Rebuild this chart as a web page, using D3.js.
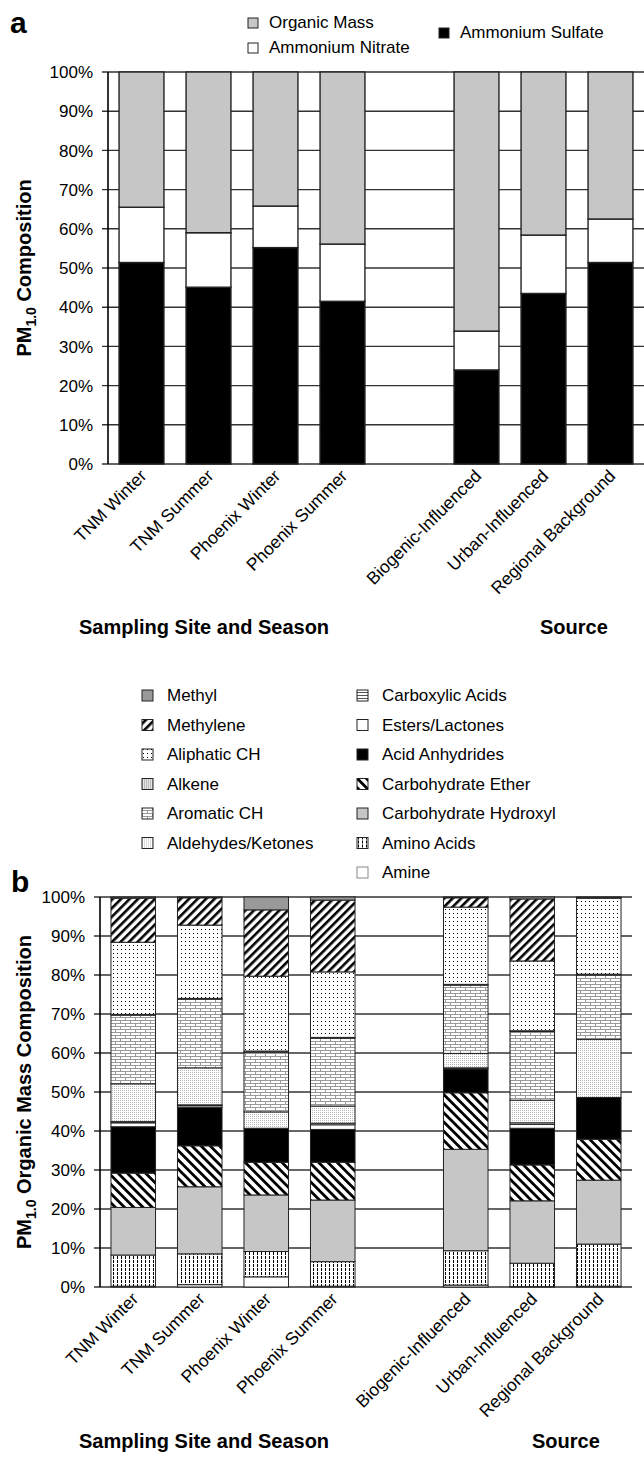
<!DOCTYPE html>
<html>
<head>
<meta charset="utf-8">
<script src="https://cdn.jsdelivr.net/npm/d3@7"></script>
<style>
  body { margin: 0; background: #fff; }
  svg { display: block; font-family: "Liberation Sans", Arial, sans-serif; }
</style>
</head>
<body>
<div id="chart"></div>
<script>
// categories
const siteLabels = ["TNM Winter", "TNM Summer", "Phoenix Winter", "Phoenix Summer"];
const sourceLabels = ["Biogenic-Influenced", "Urban-Influenced", "Regional Background"];
const categories = siteLabels.concat(sourceLabels);
const yTicks = [0, 10, 20, 30, 40, 50, 60, 70, 80, 90, 100];

// panel a (% of PM1.0)
const sulfate = [51.4, 45.1, 55.2, 41.5, 24.0, 43.5, 51.4];
const nitrate = [14.1, 13.9, 10.6, 14.6, 9.9, 14.9, 11.1];
const organic = [34.5, 41.0, 34.2, 43.9, 66.1, 41.6, 37.5];

// panel b (% of organic mass), bottom to top
const amine      = [0.2, 0.6, 2.6, 0.2, 0.5, 0.1, 0.2];
const aminoAcids = [8.0, 7.9, 6.5, 6.3, 8.8, 6.0, 10.8];
const hydroxyl   = [12.2, 17.2, 14.5, 15.8, 26.0, 16.0, 16.4];
const ether      = [8.8, 10.5, 8.4, 9.7, 14.5, 9.2, 10.5];
const anhydrides = [11.9, 9.9, 8.7, 8.4, 6.1, 9.4, 10.7];
const esters     = [1.0, 0.4, 0.0, 1.2, 0.0, 1.0, 0.0];
const carboxylic = [0.3, 0.2, 0.0, 0.4, 0.3, 0.4, 0.0];
const aldehydes  = [9.7, 9.5, 4.2, 4.4, 3.7, 5.8, 14.9];
const aromatic   = [17.6, 17.6, 15.3, 17.4, 17.5, 17.6, 16.5];
const alkene     = [0.2, 0.2, 0.3, 0.2, 0.2, 0.2, 0.2];
const aliphatic  = [18.5, 18.8, 19.2, 16.8, 19.8, 17.9, 19.5];
const methylene  = [11.3, 7.0, 17.0, 18.4, 2.4, 15.9, 0.2];
const methyl     = [0.3, 0.2, 3.3, 0.8, 0.2, 0.5, 0.1];

const seriesA = [
  {key: "Ammonium Sulfate", values: sulfate},
  {key: "Ammonium Nitrate", values: nitrate},
  {key: "Organic Mass", values: organic}
];
const seriesB = [
  {key: "Amine", values: amine},
  {key: "Amino Acids", values: aminoAcids},
  {key: "Carbohydrate Hydroxyl", values: hydroxyl},
  {key: "Carbohydrate Ether", values: ether},
  {key: "Acid Anhydrides", values: anhydrides},
  {key: "Esters/Lactones", values: esters},
  {key: "Carboxylic Acids", values: carboxylic},
  {key: "Aldehydes/Ketones", values: aldehydes},
  {key: "Aromatic CH", values: aromatic},
  {key: "Alkene", values: alkene},
  {key: "Aliphatic CH", values: aliphatic},
  {key: "Methylene", values: methylene},
  {key: "Methyl", values: methyl}
];
const legendColsB = [
  ["Methyl", "Methylene", "Aliphatic CH", "Alkene", "Aromatic CH", "Aldehydes/Ketones"],
  ["Carboxylic Acids", "Esters/Lactones", "Acid Anhydrides", "Carbohydrate Ether", "Carbohydrate Hydroxyl", "Amino Acids", "Amine"]
];

const W = 644, H = 1457;
const svg = d3.select("#chart").append("svg").attr("width", W).attr("height", H);
const defs = svg.append("defs");

function pat(id, w, h, angle) {
  const p = defs.append("pattern").attr("id", id)
    .attr("patternUnits", "userSpaceOnUse").attr("width", w).attr("height", h);
  if (angle) p.attr("patternTransform", "rotate(" + angle + ")");
  p.append("rect").attr("width", w).attr("height", h).attr("fill", "#fff");
  return p;
}
// hatches
pat("pMethylene", 6, 6, 45).append("rect").attr("width", 2.6).attr("height", 6).attr("fill", "#000");
pat("pEther", 6.5, 6.5, -45).append("rect").attr("width", 2.8).attr("height", 6.5).attr("fill", "#000");
// dots
pat("pDots", 4, 4).append("rect").attr("x", 1).attr("y", 1).attr("width", 1).attr("height", 1).attr("fill", "#000");
// brick
let br = pat("pBrick", 10, 6);
br.append("rect").attr("width", 10).attr("height", 1).attr("fill", "#999");
br.append("rect").attr("y", 3).attr("width", 10).attr("height", 1).attr("fill", "#999");
br.append("rect").attr("x", 0).attr("width", 1).attr("height", 3).attr("fill", "#999");
br.append("rect").attr("x", 5).attr("y", 3).attr("width", 1).attr("height", 3).attr("fill", "#999");
// stipples
let st = pat("pStipple", 2, 2);
st.append("rect").attr("width", 1).attr("height", 1).attr("fill", "#bbb");
let st2 = pat("pStipple2", 2, 2);
st2.append("rect").attr("width", 1).attr("height", 1).attr("fill", "#777");
st2.append("rect").attr("x", 1).attr("y", 1).attr("width", 1).attr("height", 1).attr("fill", "#ccc");
// horizontal lines
pat("pHLines", 3, 3).append("rect").attr("width", 3).attr("height", 1).attr("fill", "#555");
// vertical dashes
pat("pVDash", 4, 4).append("rect").attr("x", 1).attr("width", 1).attr("height", 3).attr("fill", "#000");

const fillA = {"Organic Mass": "#c6c6c6", "Ammonium Nitrate": "#fff", "Ammonium Sulfate": "#000"};
const fillB = {
  "Methyl": "#999",
  "Methylene": "url(#pMethylene)",
  "Aliphatic CH": "url(#pDots)",
  "Alkene": "url(#pStipple2)",
  "Aromatic CH": "url(#pBrick)",
  "Aldehydes/Ketones": "url(#pStipple)",
  "Carboxylic Acids": "url(#pHLines)",
  "Esters/Lactones": "#fff",
  "Acid Anhydrides": "#000",
  "Carbohydrate Ether": "url(#pEther)",
  "Carbohydrate Hydroxyl": "#c6c6c6",
  "Amino Acids": "url(#pVDash)",
  "Amine": "#fff"
};

function panel(opt) {
  const g = svg.append("g");
  const slots = siteLabels.concat(["_gap"], sourceLabels);
  const x = d3.scaleBand().domain(slots).range([opt.x0, W - opt.rightInset])
    .paddingInner(0.33).paddingOuter(0.165);
  const y = d3.scaleLinear().domain([0, 100]).range([opt.bottom, opt.top]);

  // gridlines + ticks
  g.append("g").selectAll("line").data(yTicks).join("line")
    .attr("x1", opt.x0 - 6).attr("x2", W - opt.rightInset)
    .attr("y1", d => y(d)).attr("y2", d => y(d))
    .attr("stroke", "#333").attr("stroke-width", 1.4);
  g.append("g").selectAll("text").data(yTicks).join("text")
    .attr("x", opt.x0 - 15).attr("y", d => y(d)).attr("dy", "0.36em")
    .attr("text-anchor", "end").attr("font-size", 17).text(d => d + "%");

  // stacked bars
  const rows = categories.map((c, i) => {
    const r = {cat: c};
    opt.series.forEach(s => r[s.key] = s.values[i]);
    return r;
  });
  const stack = d3.stack().keys(opt.series.map(s => s.key))(rows);
  g.append("g").selectAll("g").data(stack).join("g")
    .attr("fill", d => opt.fill[d.key])
    .selectAll("rect").data(d => d).join("rect")
    .attr("x", d => x(d.data.cat))
    .attr("width", x.bandwidth())
    .attr("y", d => y(d[1]))
    .attr("height", d => y(d[0]) - y(d[1]))
    .attr("stroke", "#222").attr("stroke-width", opt.stroke);

  // y axis line
  g.append("line").attr("x1", opt.x0).attr("x2", opt.x0)
    .attr("y1", y(100)).attr("y2", y(0)).attr("stroke", "#000").attr("stroke-width", 1.6);

  // x labels
  g.append("g").selectAll("text").data(categories).join("text")
    .attr("transform", d => `translate(${x(d) + x.bandwidth() / 2 + 6},${opt.bottom + 13}) rotate(-45)`)
    .attr("text-anchor", "end").attr("font-size", 17.5).text(d => d);

  // axis titles
  g.append("text").attr("x", 79).attr("y", opt.titleY)
    .attr("font-size", 20).attr("font-weight", "bold").text("Sampling Site and Season");
  g.append("text").attr("x", opt.sourceX).attr("y", opt.titleY)
    .attr("font-size", 20).attr("font-weight", "bold").text("Source");

  const yt = g.append("text")
    .attr("transform", `translate(31,${(opt.top + opt.bottom) / 2}) rotate(-90)`)
    .attr("text-anchor", "middle").attr("font-size", 20).attr("font-weight", "bold");
  yt.append("tspan").text("PM");
  yt.append("tspan").attr("font-size", 14).attr("dy", 5).text("1.0");
  yt.append("tspan").attr("dy", -5).text(" " + opt.ytitle);

  g.append("text").attr("x", opt.labelX).attr("y", opt.labelY)
    .attr("font-size", 30).attr("font-weight", "bold").text(opt.label);
}

panel({x0: 108, rightInset: 0, top: 72, bottom: 464, series: seriesA, fill: fillA, stroke: 1.4,
  ytitle: "Composition", label: "a", labelX: 10, labelY: 33, sourceX: 540, titleY: 634});
panel({x0: 100, rightInset: 12, top: 897, bottom: 1287, series: seriesB, fill: fillB, stroke: 1,
  ytitle: "Organic Mass Composition", label: "b", labelX: 11, labelY: 892, sourceX: 532, titleY: 1448});

// legend a
const legA = [
  {key: "Organic Mass", x: 248, y: 28},
  {key: "Ammonium Nitrate", x: 248, y: 53},
  {key: "Ammonium Sulfate", x: 439, y: 38}
];
const la = svg.append("g").selectAll("g").data(legA).join("g");
la.append("rect").attr("x", d => d.x).attr("y", d => d.y - 10).attr("width", 10).attr("height", 10)
  .attr("fill", d => fillA[d.key]).attr("stroke", "#222").attr("stroke-width", 1);
la.append("text").attr("x", d => d.x + 21).attr("y", d => d.y).attr("font-size", 17).text(d => d.key);

// legend b
const colX = [142, 357];
legendColsB.forEach((col, ci) => {
  const lg = svg.append("g").selectAll("g").data(col).join("g")
    .attr("transform", (d, i) => `translate(${colX[ci]},${701 + i * 29.5})`);
  lg.append("rect").attr("y", -11).attr("width", 11).attr("height", 11)
    .attr("fill", d => fillB[d]).attr("stroke", d => d === "Amine" ? "#888" : "#222").attr("stroke-width", 1);
  lg.append("text").attr("x", 25).attr("font-size", 17).text(d => d);
});
</script>
</body>
</html>
